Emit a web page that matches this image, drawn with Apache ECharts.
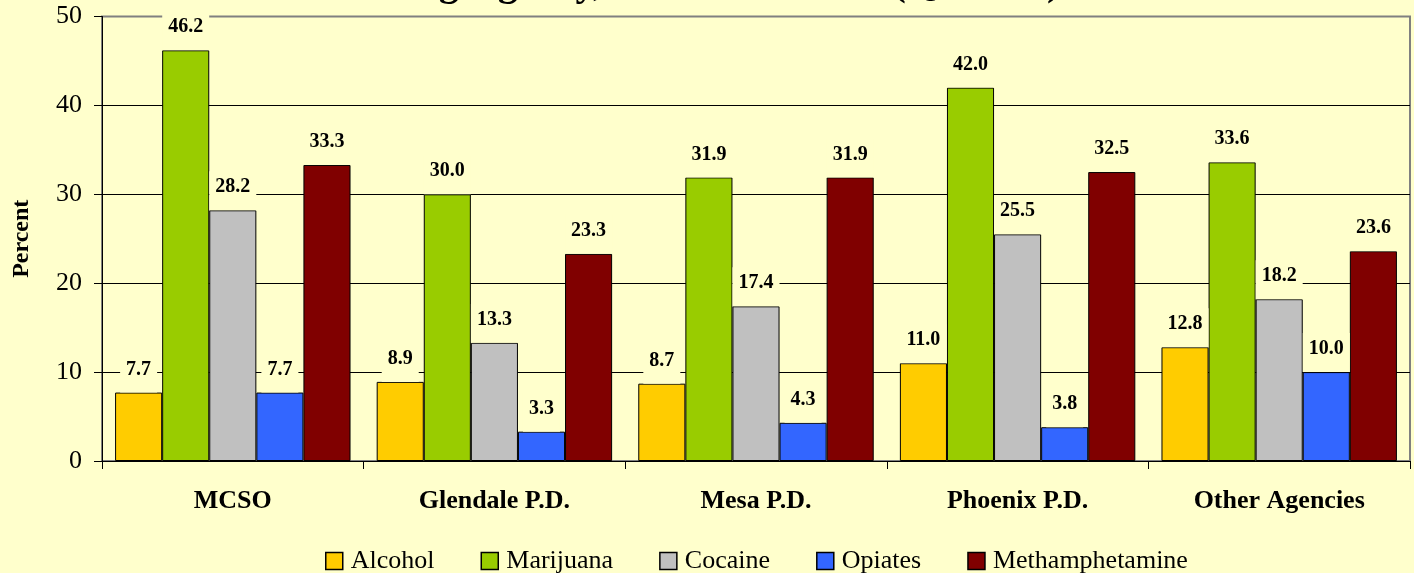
<!DOCTYPE html>
<html>
<head>
<meta charset="utf-8">
<script src="https://cdn.jsdelivr.net/npm/echarts@6/dist/echarts.min.js"></script>
<style>
html,body{margin:0;padding:0;background:#FFFFCC;}
#c{width:1414px;height:573px;}
</style>
</head>
<body>
<div id="c"></div>
<script>
const categories = ['MCSO', 'Glendale P.D.', 'Mesa P.D.', 'Phoenix P.D.', 'Other Agencies'];
const alcohol = [7.7, 8.9, 8.7, 11.0, 12.8];
const marijuana = [46.2, 30.0, 31.9, 42.0, 33.6];
const cocaine = [28.2, 13.3, 17.4, 25.5, 18.2];
const opiates = [7.7, 3.3, 4.3, 3.8, 10.0];
const methamphetamine = [33.3, 23.3, 31.9, 32.5, 23.6];
const seriesNames = ['Alcohol', 'Marijuana', 'Cocaine', 'Opiates', 'Methamphetamine'];
const seriesColors = ['#FFCC00', '#99CC00', '#C0C0C0', '#3366FF', '#800000'];
const seriesData = [alcohol, marijuana, cocaine, opiates, methamphetamine];
const titleText = 'Test Results for Arresting Agency, Adult Arrestees (Q1 2004)';

const serif = "'Liberation Serif', 'Times New Roman', serif";
const chart = echarts.init(document.getElementById('c'));
chart.setOption({
  backgroundColor: '#FFFFCC',
  animation: false,
  title: {
    text: titleText,
    left: 15,
    top: -40,
    textStyle: {fontFamily: serif, fontWeight: 'bold', fontSize: 40, color: '#000'}
  },
  grid: {
    left: 102, right: 4, top: 16.5, bottom: 112,
    outerBoundsMode: 'none',
    containLabel: false,
    show: true, borderColor: '#808080', borderWidth: 2, backgroundColor: 'transparent'
  },
  legend: {
    left: 325, top: 548, padding: 0,
    itemWidth: 17, itemHeight: 17, itemGap: 46,
    icon: 'rect',
    itemStyle: {borderColor: '#000', borderWidth: 1.5},
    textStyle: {fontFamily: serif, fontSize: 26, color: '#000', padding: [0, 0, 0, 3]},
    data: seriesNames
  },
  xAxis: {
    type: 'category',
    data: categories,
    axisLine: {lineStyle: {color: '#000', width: 1}},
    axisTick: {show: true, length: 8, lineStyle: {color: '#000'}},
    axisLabel: {fontFamily: serif, fontWeight: 'bold', fontSize: 26, color: '#000', margin: 27}
  },
  yAxis: {
    type: 'value',
    min: 0, max: 50, interval: 10,
    name: 'Percent',
    nameLocation: 'middle',
    nameGap: 68,
    nameTextStyle: {fontFamily: serif, fontWeight: 'bold', fontSize: 24, color: '#000'},
    axisLine: {show: true, lineStyle: {color: '#000', width: 1}},
    axisTick: {show: true, length: 8, lineStyle: {color: '#000'}},
    axisLabel: {fontFamily: serif, fontSize: 26, color: '#000', margin: 20},
    splitLine: {show: true, showMaxLine: false, lineStyle: {color: '#000', width: 1}}
  },
  series: seriesNames.map((n, i) => ({
    name: n,
    type: 'bar',
    data: seriesData[i],
    barGap: '0%',
    barCategoryGap: '10%',
    itemStyle: {color: seriesColors[i], borderColor: '#000', borderWidth: 1},
    label: {
      show: true,
      position: 'top',
      distance: 0,
      formatter: p => Number(p.value).toFixed(1),
      fontFamily: serif, fontWeight: 'bold', fontSize: 20, color: '#000',
      backgroundColor: '#FFFFCC',
      padding: [6, 6, 13, 6]
    }
  }))
});
</script>
</body>
</html>
